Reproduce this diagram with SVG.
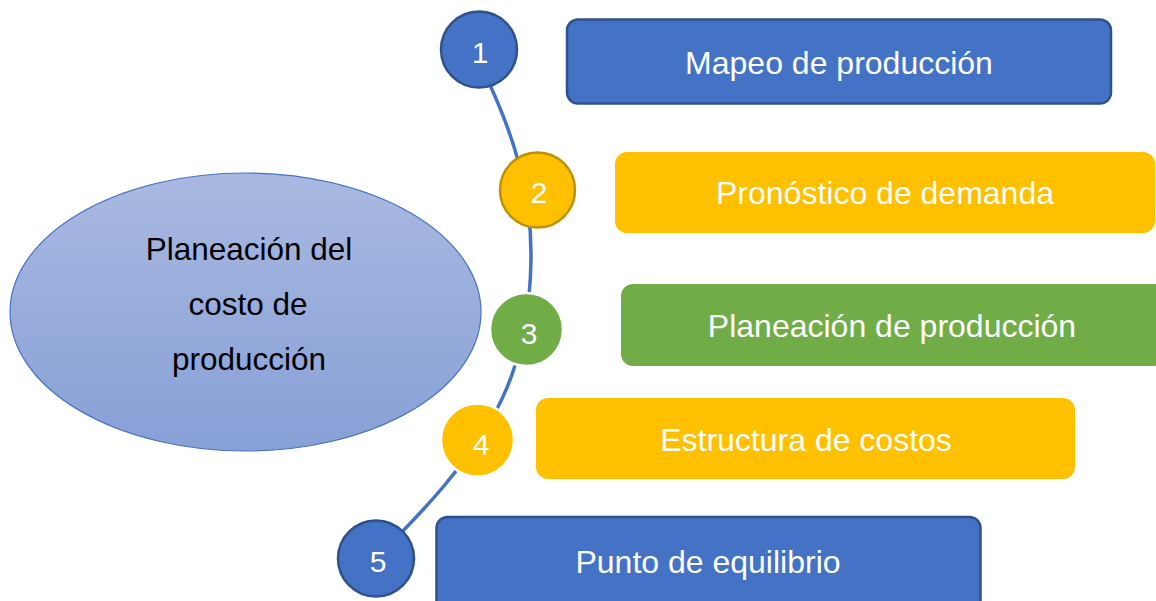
<svg xmlns="http://www.w3.org/2000/svg" width="1156" height="601" viewBox="0 0 1156 601">
<defs>
<linearGradient id="eg" x1="0" y1="0" x2="0" y2="1">
<stop offset="0" stop-color="#A9B9E1"/>
<stop offset="1" stop-color="#87A0D6"/>
</linearGradient>
<style>
text{font-family:"Liberation Sans",Arial,sans-serif;}
.lbl{fill:#FFFFFF;font-size:32px;text-anchor:middle;}
.num{fill:#FFFFFF;font-size:30px;text-anchor:middle;}
.ctr{fill:#000000;font-size:31.5px;text-anchor:middle;}
.blue{fill:#4472C4;stroke:#2F528F;stroke-width:2.5;}
.yel{fill:#FFC000;}
.grn{fill:#70AD47;}
.c-blue{fill:#4472C4;stroke:#2F528F;stroke-width:2.5;}
.c-yel{fill:#FFC000;stroke:#BF9000;stroke-width:2.5;}
.c-white{stroke:#FFFFFF;stroke-width:2.5;}
.conn{fill:none;stroke:#4472C4;stroke-width:3.5;}
</style>
</defs>
<rect width="1156" height="601" fill="#FFFFFF"/>
<g id="center">
<ellipse cx="245.5" cy="312" rx="235.5" ry="139" fill="url(#eg)" stroke="#4472C4" stroke-width="1.2"/>
<text class="ctr" x="249" y="260">Planeación del</text>
<text class="ctr" x="248" y="315">costo de</text>
<text class="ctr" x="249" y="370">producción</text>
</g>
<g id="connectors">
<path class="conn" d="M 483,70 C 512,130 532,190 531,260 C 530,320 517,375 492,418 C 465,465 430,505 376,558"/>
</g>
<g id="item1">
<rect class="blue" x="567" y="19.5" width="544" height="84" rx="11"/>
<text class="lbl" x="839" y="74">Mapeo de producción</text>
<circle class="c-blue" cx="479" cy="49.5" r="38"/>
<text class="num" x="480" y="63">1</text>
</g>
<g id="item2">
<rect class="yel" x="615" y="152" width="540" height="81" rx="12"/>
<text class="lbl" x="885" y="204">Pronóstico de demanda</text>
<circle class="c-yel" cx="537.5" cy="190" r="37.5"/>
<text class="num" x="539" y="203">2</text>
</g>
<g id="item3">
<rect class="grn" x="621" y="284" width="545" height="82" rx="12"/>
<text class="lbl" x="892" y="337">Planeación de producción</text>
<circle class="grn c-white" cx="526.5" cy="329.5" r="36.5"/>
<text class="num" x="529" y="344">3</text>
</g>
<g id="item4">
<rect class="yel" x="536" y="398" width="539" height="81" rx="12"/>
<text class="lbl" x="806" y="451">Estructura de costos</text>
<circle class="yel c-white" cx="477.5" cy="440" r="36.5"/>
<text class="num" x="481" y="455">4</text>
</g>
<g id="item5">
<rect class="blue" x="436.5" y="517" width="544" height="95" rx="11"/>
<text class="lbl" x="708" y="573">Punto de equilibrio</text>
<circle class="c-blue" cx="376" cy="558.5" r="38"/>
<text class="num" x="378" y="572">5</text>
</g>
</svg>
